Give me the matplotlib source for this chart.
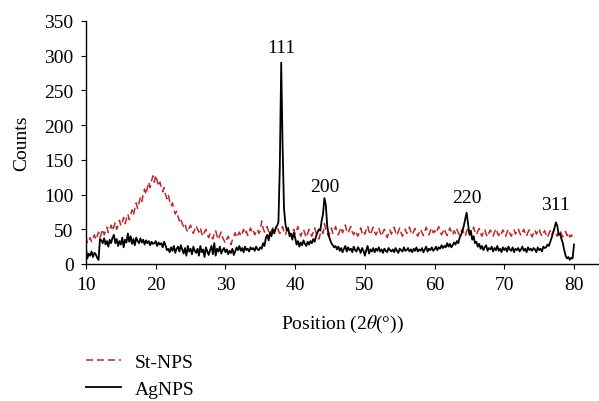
import numpy as np
import matplotlib
matplotlib.use("Agg")
import matplotlib.pyplot as plt

plt.rcParams["font.family"] = ["Liberation Serif", "DejaVu Serif"]
plt.rcParams["mathtext.fontset"] = "stix"

# 2-theta grid, 0.2 degree steps from 10 to 80
two_theta = np.round(np.arange(10.0, 80.001, 0.2), 1)

# St-NPS counts (one row per 2 degrees)
st_nps = [
    40, 30, 34, 38, 32, 36, 42, 35, 40, 46,
    38, 44, 50, 42, 47, 53, 45, 50, 56, 48,
    54, 60, 50, 56, 63, 55, 60, 67, 58, 65,
    72, 64, 70, 78, 70, 80, 88, 80, 88, 96,
    90, 100, 108, 100, 110, 118, 110, 120, 127, 118,
    128, 120, 112, 118, 110, 104, 110, 100, 94, 100,
    90, 84, 88, 78, 72, 76, 68, 62, 66, 58,
    54, 58, 50, 46, 52, 56, 48, 44, 50, 55,
    50, 46, 52, 44, 40, 46, 50, 42, 38, 44,
    40, 36, 44, 48, 40, 35, 42, 46, 38, 34,
    30, 36, 40, 33, 28, 35, 40, 45, 38, 42,
    46, 40, 44, 50, 43, 47, 41, 46, 52, 45,
    48, 42, 46, 50, 44, 48, 62, 52, 46, 50,
    54, 46, 42, 48, 52, 45, 50, 55, 48, 44,
    50, 54, 46, 42, 48, 52, 44, 40, 46, 50,
    43, 48, 54, 46, 40, 45, 50, 44, 38, 44,
    50, 44, 40, 46, 52, 45, 40, 36, 43, 48,
    44, 58, 50, 44, 40, 46, 52, 44, 48, 54,
    46, 42, 48, 53, 45, 50, 56, 48, 44, 50,
    54, 46, 42, 48, 44, 40, 46, 52, 45, 48,
    43, 50, 55, 47, 42, 48, 53, 46, 42, 47,
    52, 45, 40, 46, 50, 44, 38, 44, 49, 43,
    48, 53, 46, 41, 47, 52, 45, 40, 46, 50,
    44, 48, 53, 46, 42, 47, 51, 44, 40, 46,
    50, 45, 41, 47, 53, 46, 42, 48, 52, 45,
    48, 44, 49, 54, 47, 42, 46, 51, 45, 41,
    47, 52, 46, 42, 48, 44, 50, 45, 41, 46,
    50, 44, 40, 47, 52, 45, 42, 48, 53, 46,
    42, 47, 51, 44, 40, 46, 50, 43, 39, 45,
    49, 44, 40, 46, 51, 45, 41, 47, 44, 49,
    45, 40, 46, 50, 44, 40, 45, 49, 43, 47,
    51, 45, 41, 46, 50, 44, 40, 46, 49, 43,
    39, 45, 49, 43, 47, 51, 44, 40, 45, 48,
    42, 38, 44, 48, 42, 46, 50, 44, 40, 46,
    49, 43, 39, 44, 47, 41, 45, 39, 42, 38,
    37,
]

# AgNPS counts
ag_nps = [
    22, 8, 15, 12, 18, 10, 16, 14, 9, 6,
    36, 34, 30, 37, 28, 33, 25, 35, 30, 38,
    42, 30, 36, 26, 33, 28, 38, 24, 35, 31,
    44, 32, 40, 29, 36, 27, 38, 33, 30, 37,
    31, 35, 28, 34, 30, 33, 27, 32, 29, 30,
    33, 26, 31, 28, 30, 24, 32, 27, 20, 22,
    17, 24, 19, 26, 16, 22, 25, 18, 27, 21,
    15, 23, 12, 26, 18, 22, 14, 25, 19, 16,
    22, 12, 26, 17, 21, 10, 24, 18, 13, 20,
    26, 14, 30, 12, 22, 18, 25, 15, 20, 23,
    17, 21, 14, 19, 16, 22, 13, 18, 24, 20,
    26, 19, 23, 17, 25, 20, 22, 18, 24, 21,
    23, 19, 25, 21, 20, 24, 22, 30, 26, 38,
    42, 34, 46, 40, 50, 44, 52, 55, 60, 140,
    290, 170, 80, 58, 48, 52, 40, 44, 35, 45,
    38, 28, 33, 25, 31, 27, 34, 29, 26, 32,
    28, 33, 30, 36, 32, 40, 45, 50, 48, 62,
    72, 95, 85, 55, 42, 35, 30, 27, 24, 26,
    21, 25, 19, 23, 17, 22, 26, 18, 24, 20,
    22, 17, 25, 20, 18, 24, 21, 16, 23, 19,
    12, 20, 26, 15, 21, 18, 23, 17, 22, 19,
    24, 18, 21, 16, 22, 19, 17, 23, 20, 18,
    21, 17, 23, 19, 16, 22, 20, 18, 24, 19,
    20, 23, 18, 21, 17, 22, 19, 24, 18, 21,
    19, 23, 17, 21, 25, 18, 22, 20, 24, 19,
    21, 25, 20, 24, 22, 27, 23, 26, 24, 30,
    25, 29, 24, 27, 31, 28, 33, 30, 38, 42,
    48, 55, 65, 74, 58, 42, 48, 35, 40, 30,
    32, 25, 29, 22, 26, 20, 24, 27, 19, 23,
    21, 25, 18, 23, 20, 26, 19, 22, 17, 24,
    20, 23, 18, 25, 21, 19, 24, 17, 22, 20,
    23, 18, 21, 25, 19, 22, 17, 24, 20, 22,
    19, 23, 21, 17, 24, 20, 22, 18, 25, 23,
    24, 28, 26, 32, 38, 45, 52, 60, 55, 42,
    44, 36, 30, 20, 12, 8, 10, 6, 9, 8,
    28,
]

# Miller indices of the silver reflections and where their labels sit
peak_labels = ["111", "200", "220", "311"]
peak_pos = [38.0, 44.3, 64.7, 77.3]
peak_label_y = [312, 112, 96, 85]

fig = plt.figure(figsize=(5.99, 4.02), dpi=100)
ax = fig.add_axes([0.1436, 0.3408, 0.8548, 0.6045])

red, = ax.plot(two_theta, st_nps, color="#c1272d", linewidth=1.1, label="St-NPS")
red.set_dashes((4.6, 2.6))
ax.plot(two_theta, ag_nps, color="black", linewidth=1.3, label="AgNPS")

for lab, x, y in zip(peak_labels, peak_pos, peak_label_y):
    ax.text(x, y, lab, ha="center", va="center", fontsize=14)

ax.set_xlim(10, 83.45)
ax.set_ylim(0, 350)
ax.set_xticks(range(10, 81, 10))
ax.set_yticks(range(0, 351, 50))
ax.tick_params(labelsize=14, length=3.5, width=0.8, direction="out", pad=5.5)
for side in ("top", "right"):
    ax.spines[side].set_visible(False)
for side in ("left", "bottom"):
    ax.spines[side].set_linewidth(1.0)

ax.set_xlabel(r"Position (2$\theta$(°))", fontsize=14, labelpad=14)
ax.set_ylabel("Counts", fontsize=14, labelpad=10)

fig.legend(loc="upper left", bbox_to_anchor=(0.143, 0.118), frameon=False,
           fontsize=14, handlelength=1.8, handletextpad=0.72,
           labelspacing=0.45, borderaxespad=0, borderpad=0)

fig.savefig("out.png", dpi=100)
